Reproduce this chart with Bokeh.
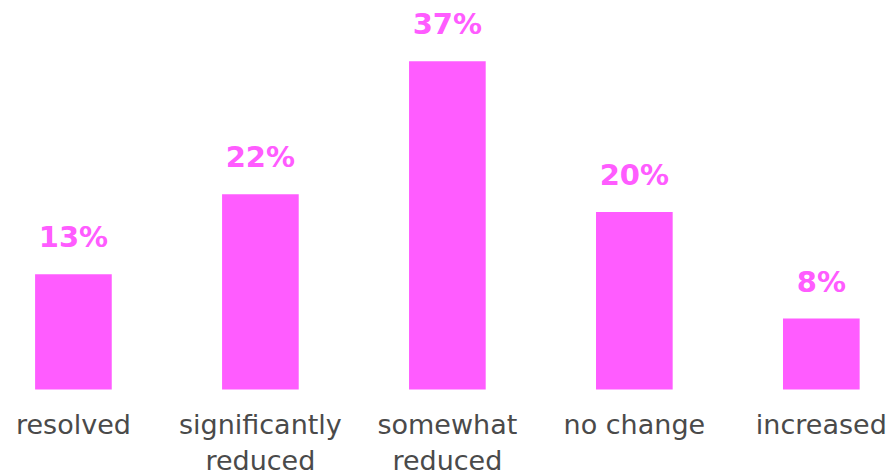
from bokeh.plotting import figure
from bokeh.models import ColumnDataSource, Range1d
from bokeh.core.properties import value
from bokeh.embed import file_html
from bokeh.resources import INLINE

# Survey result: change in symptoms
categories = ["resolved", "significantly\nreduced", "somewhat\nreduced", "no change", "increased"]
percent = [13, 22, 37, 20, 8]

BAR = "#ff5cff"
GREY = "#4a4a4a"
FONT = "DejaVu Sans"

x_pos = list(range(len(categories)))
src = ColumnDataSource(dict(
    x=x_pos,
    top=percent,
    label=[f"{v}%" for v in percent],
    cat=categories,
    zero=[0] * len(categories),
))

p = figure(width=890, height=472, output_backend="svg", toolbar_location=None,
           x_range=Range1d(-0.39, 4.37), y_range=Range1d(-9.36, 43.86),
           min_border=0, outline_line_color=None, background_fill_color="white",
           border_fill_color="white")
p.axis.visible = False
p.grid.visible = False

p.vbar(x="x", top="top", bottom=0, width=0.41, source=src,
       fill_color=BAR, line_color=None)

# value labels above each bar
p.text(x="x", y="top", text="label", source=src, y_offset=-37,
       text_align="center", text_baseline="alphabetic",
       text_font=value(FONT), text_font_style="bold",
       text_font_size="29px", text_color=BAR)

# category names under the bars
p.text(x="x", y="zero", text="cat", source=src, y_offset=20,
       text_align="center", text_baseline="top", text_line_height=1.14,
       text_font=value(FONT), text_font_size="27px", text_color=GREY)

open("out.html", "w").write(file_html(p, INLINE))
